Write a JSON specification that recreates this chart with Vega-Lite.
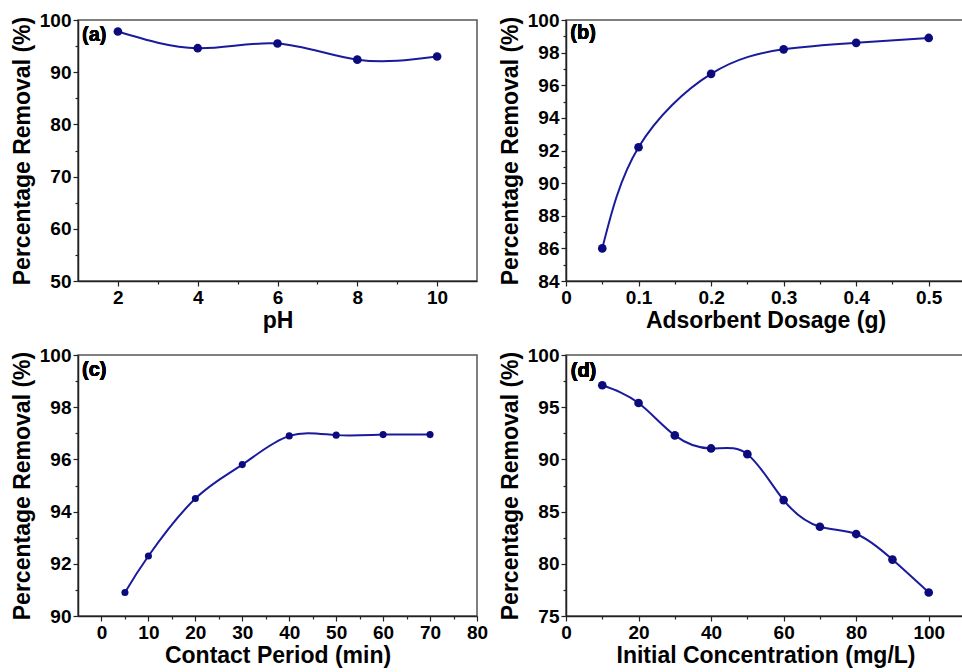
{
  "$schema": "https://vega.github.io/schema/vega-lite/v6.json",
  "background": "white",
  "padding": {"left": 10, "top": 10, "right": 0, "bottom": 0},
  "datasets": {
    "ph": [
      {"x": 2, "y": 97.8}, {"x": 4, "y": 94.6}, {"x": 6, "y": 95.5},
      {"x": 8, "y": 92.4}, {"x": 10, "y": 93.0}
    ],
    "dosage": [
      {"x": 0.05, "y": 86.0}, {"x": 0.1, "y": 92.2}, {"x": 0.2, "y": 96.7},
      {"x": 0.3, "y": 98.2}, {"x": 0.4, "y": 98.6}, {"x": 0.5, "y": 98.9}
    ],
    "contact": [
      {"x": 5, "y": 90.9}, {"x": 10, "y": 92.3}, {"x": 20, "y": 94.5},
      {"x": 30, "y": 95.8}, {"x": 40, "y": 96.9}, {"x": 50, "y": 96.93},
      {"x": 60, "y": 96.95}, {"x": 70, "y": 96.95}
    ],
    "conc": [
      {"x": 10, "y": 97.1}, {"x": 20, "y": 95.4}, {"x": 30, "y": 92.3},
      {"x": 40, "y": 91.05}, {"x": 50, "y": 90.5}, {"x": 60, "y": 86.1},
      {"x": 70, "y": 83.55}, {"x": 80, "y": 82.85}, {"x": 90, "y": 80.4},
      {"x": 100, "y": 77.25}
    ]
  },
  "columns": 2,
  "spacing": {"column": 9, "row": 12},
  "concat": [
    {
      "width": 399, "height": 261,
      "data": {"name": "ph"},
      "encoding": {
        "x": {"field": "x", "type": "quantitative", "title": "pH",
          "scale": {"domain": [1, 11], "nice": false, "zero": false},
          "axis": {"values": [2, 3, 4, 5, 6, 7, 8, 9, 10],
            "labelExpr": "datum.value % 2 == 0 ? datum.label : ''",
            "tickSize": {"condition": {"test": "datum.value % 2 == 0", "value": 5}, "value": 3}}},
        "y": {"field": "y", "type": "quantitative", "title": "Percentage Removal (%)",
          "scale": {"domain": [50, 100], "nice": false, "zero": false},
          "axis": {"values": [50, 55, 60, 65, 70, 75, 80, 85, 90, 95, 100],
            "labelExpr": "datum.value % 10 == 0 ? datum.label : ''",
            "tickSize": {"condition": {"test": "datum.value % 10 == 0", "value": 5}, "value": 3}}}
      },
      "layer": [
        {"mark": {"type": "line", "interpolate": "natural", "color": "#1a1a9c", "strokeWidth": 2}},
        {"mark": {"type": "circle", "color": "#0b0b7e", "opacity": 1, "size": 75}},
        {"mark": {"type": "text", "text": "(a)", "align": "left", "baseline": "middle", "fontSize": 20, "fontWeight": "bold", "font": "Liberation Sans", "color": "black"},
         "encoding": {"x": {"datum": 1.1}, "y": {"datum": 97.1}}}
      ]
    },
    {
      "width": 399, "height": 261,
      "data": {"name": "dosage"},
      "encoding": {
        "x": {"field": "x", "type": "quantitative", "title": "Adsorbent Dosage (g)",
          "scale": {"domain": [0, 0.55], "nice": false, "zero": false},
          "axis": {"values": [0, 0.05, 0.1, 0.15, 0.2, 0.25, 0.3, 0.35, 0.4, 0.45, 0.5],
            "format": ".2~f",
            "labelExpr": "round(datum.value * 100) % 10 == 0 ? datum.label : ''",
            "tickSize": {"condition": {"test": "round(datum.value * 100) % 10 == 0", "value": 5}, "value": 3}}},
        "y": {"field": "y", "type": "quantitative", "title": "Percentage Removal (%)",
          "scale": {"domain": [84, 100], "nice": false, "zero": false},
          "axis": {"values": [84, 85, 86, 87, 88, 89, 90, 91, 92, 93, 94, 95, 96, 97, 98, 99, 100],
            "labelExpr": "datum.value % 2 == 0 ? datum.label : ''",
            "tickSize": {"condition": {"test": "datum.value % 2 == 0", "value": 5}, "value": 3}}}
      },
      "layer": [
        {"mark": {"type": "line", "interpolate": "natural", "color": "#1a1a9c", "strokeWidth": 2}},
        {"mark": {"type": "circle", "color": "#0b0b7e", "opacity": 1, "size": 75}},
        {"mark": {"type": "text", "text": "(b)", "align": "left", "baseline": "middle", "fontSize": 20, "fontWeight": "bold", "font": "Liberation Sans", "color": "black"},
         "encoding": {"x": {"datum": 0.006}, "y": {"datum": 99.2}}}
      ]
    },
    {
      "width": 399, "height": 261,
      "data": {"name": "contact"},
      "encoding": {
        "x": {"field": "x", "type": "quantitative", "title": "Contact Period (min)",
          "scale": {"domain": [-5, 80], "nice": false, "zero": false},
          "axis": {"values": [0, 5, 10, 15, 20, 25, 30, 35, 40, 45, 50, 55, 60, 65, 70, 75, 80],
            "labelExpr": "datum.value % 10 == 0 ? datum.label : ''",
            "tickSize": {"condition": {"test": "datum.value % 10 == 0", "value": 5}, "value": 3}}},
        "y": {"field": "y", "type": "quantitative", "title": "Percentage Removal (%)",
          "scale": {"domain": [90, 100], "nice": false, "zero": false},
          "axis": {"values": [90, 91, 92, 93, 94, 95, 96, 97, 98, 99, 100],
            "labelExpr": "datum.value % 2 == 0 ? datum.label : ''",
            "tickSize": {"condition": {"test": "datum.value % 2 == 0", "value": 5}, "value": 3}}}
      },
      "layer": [
        {"mark": {"type": "line", "interpolate": "natural", "color": "#1a1a9c", "strokeWidth": 2}},
        {"mark": {"type": "circle", "color": "#0b0b7e", "opacity": 1, "size": 50}},
        {"mark": {"type": "text", "text": "(c)", "align": "left", "baseline": "middle", "fontSize": 20, "fontWeight": "bold", "font": "Liberation Sans", "color": "black"},
         "encoding": {"x": {"datum": -4.15}, "y": {"datum": 99.43}}}
      ]
    },
    {
      "width": 399, "height": 261,
      "data": {"name": "conc"},
      "encoding": {
        "x": {"field": "x", "type": "quantitative", "title": "Initial Concentration (mg/L)",
          "scale": {"domain": [0, 110], "nice": false, "zero": false},
          "axis": {"values": [0, 10, 20, 30, 40, 50, 60, 70, 80, 90, 100],
            "labelExpr": "datum.value % 20 == 0 ? datum.label : ''",
            "tickSize": {"condition": {"test": "datum.value % 20 == 0", "value": 5}, "value": 3}}},
        "y": {"field": "y", "type": "quantitative", "title": "Percentage Removal (%)",
          "scale": {"domain": [75, 100], "nice": false, "zero": false},
          "axis": {"values": [75, 77.5, 80, 82.5, 85, 87.5, 90, 92.5, 95, 97.5, 100],
            "labelExpr": "datum.value % 5 == 0 ? datum.label : ''",
            "tickSize": {"condition": {"test": "datum.value % 5 == 0", "value": 5}, "value": 3}}}
      },
      "layer": [
        {"mark": {"type": "line", "interpolate": "natural", "color": "#1a1a9c", "strokeWidth": 2}},
        {"mark": {"type": "circle", "color": "#0b0b7e", "opacity": 1, "size": 75}},
        {"mark": {"type": "text", "text": "(d)", "align": "left", "baseline": "middle", "fontSize": 20, "fontWeight": "bold", "font": "Liberation Sans", "color": "black"},
         "encoding": {"x": {"datum": 1.3}, "y": {"datum": 98.5}}}
      ]
    }
  ],
  "config": {
    "font": "Liberation Sans",
    "view": {"stroke": "#555555", "strokeWidth": 1.5},
    "axis": {
      "grid": false,
      "domainColor": "#222222",
      "domainWidth": 1.5,
      "tickColor": "#222222",
      "tickWidth": 1.2,
      "labelFont": "Liberation Sans",
      "labelFontSize": 19,
      "labelFontWeight": "bold",
      "labelColor": "black",
      "labelPadding": 2,
      "labelFlush": false,
      "labelOverlap": false,
      "titleFont": "Liberation Sans",
      "titleFontSize": 23,
      "titleFontWeight": "bold",
      "titleColor": "black"
    },
    "axisX": {"titlePadding": 2},
    "axisY": {"titlePadding": 5}
  }
}
